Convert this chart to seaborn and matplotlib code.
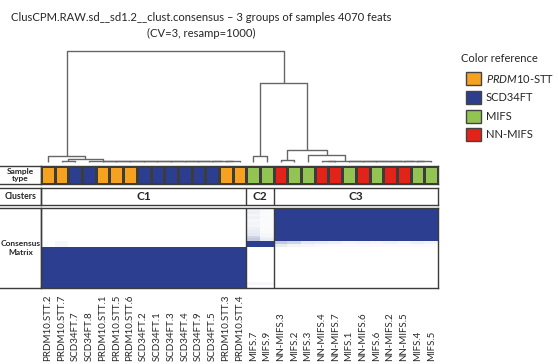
import numpy as np
import pandas as pd
import seaborn as sns
import matplotlib.pyplot as plt
from matplotlib.colors import ListedColormap, LinearSegmentedColormap
from matplotlib.patches import Rectangle
from matplotlib.transforms import blended_transform_factory

# samples in dendrogram / heatmap order
samples = ["PRDM10.STT.2", "PRDM10.STT.7", "SCD34FT.7", "SCD34FT.8", "PRDM10.STT.1",
           "PRDM10.STT.5", "PRDM10.STT.6", "SCD34FT.2", "SCD34FT.1", "SCD34FT.3",
           "SCD34FT.4", "SCD34FT.9", "SCD34FT.5", "PRDM10.STT.3", "PRDM10.STT.4",
           "MIFS.7", "MIFS.9",
           "NN-MIFS.3", "MIFS.2", "MIFS.3", "NN-MIFS.4", "NN-MIFS.7", "MIFS.1",
           "NN-MIFS.6", "MIFS.6", "NN-MIFS.2", "NN-MIFS.5", "MIFS.4", "MIFS.5"]
type_names = ["PRDM10-STT", "SCD34FT", "MIFS", "NN-MIFS"]
type_labels = [r"$\mathit{PRDM10}$-STT", "SCD34FT", "MIFS", "NN-MIFS"]
type_colors = ["#F4A21F", "#2B3E8F", "#92C353", "#E2231A"]
prefix_to_type = {"PRDM10.STT": "PRDM10-STT", "SCD34FT": "SCD34FT", "MIFS": "MIFS", "NN-MIFS": "NN-MIFS"}

clusters = ["C1", "C2", "C3"]
cluster_sizes = [15, 2, 12]

# dendrogram, linkage style: (left id, right id, height); ids >= 29 are earlier merges
merges = [
    (1, 2, 0.006), (13, 14, 0.008), (12, 30, 0.009), (11, 31, 0.010), (10, 32, 0.010),
    (9, 33, 0.011), (8, 34, 0.011), (7, 35, 0.012), (6, 36, 0.012), (5, 37, 0.012),
    (4, 38, 0.013), (3, 39, 0.013), (29, 40, 0.027), (0, 41, 0.057),
    (15, 16, 0.058),
    (17, 18, 0.018), (20, 21, 0.008), (27, 28, 0.008), (26, 46, 0.009), (25, 47, 0.009),
    (24, 48, 0.010), (23, 49, 0.010), (22, 50, 0.011), (45, 51, 0.011), (19, 52, 0.063),
    (44, 53, 0.108),
    (43, 54, 0.707), (42, 55, 1.0),
]

# consensus values
within_consensus = 1.0
mifs7_vs_c3 = [0.28, 0.22, 0.12, 0.10, 0.08, 0.05, 0.06, 0.04, 0.07, 0.05, 0.08, 0.06]
mifs9_vs_c3 = [0.10, 0.06, 0.04, 0.03, 0.02, 0.02, 0.02, 0.02, 0.03, 0.02, 0.03, 0.02]
c2_vs_prdm7 = [0.04, 0.04]
row_order = [28, 27, 26, 25, 24, 23, 22, 21, 20, 19, 18, 17, 15, 16,
             14, 13, 12, 11, 10, 9, 8, 7, 6, 5, 4, 3, 2, 1, 0]

n = len(samples)
cons = np.zeros((n, n))
start = 0
for size in cluster_sizes:
    cons[start:start + size, start:start + size] = within_consensus
    start += size
cons[15, 17:] = mifs7_vs_c3
cons[16, 17:] = mifs9_vs_c3
cons[15:17, 1] = c2_vs_prdm7
cons = np.maximum(cons, cons.T)
cons_df = pd.DataFrame(cons, index=samples, columns=samples).iloc[row_order]

sample_types = [prefix_to_type[s.rsplit(".", 1)[0]] for s in samples]
type_codes = np.array([[type_names.index(t) for t in sample_types]])

plt.rcParams["font.family"] = ["Lato", "DejaVu Sans"]
plt.rcParams["mathtext.fontset"] = "custom"
plt.rcParams["mathtext.it"] = "Lato:italic"
plt.rcParams["mathtext.rm"] = "Lato"

W, H = 558, 364
fig = plt.figure(figsize=(W / 100, H / 100), dpi=100)
edge = "#3c3c3c"
txt = "#262626"


def box(x0, y0, x1, y1):
    # pixel box (top-left origin) -> figure fraction rect
    return [x0 / W, 1 - y1 / H, (x1 - x0) / W, (y1 - y0) / H]


X0, X1 = 41, 438

# dendrogram
ax_d = fig.add_axes(box(X0, 50.7, X1, 162))
pos = {i: i + 0.5 for i in range(n)}
hgt = {i: 0.0 for i in range(n)}
for k, (a, b, h) in enumerate(merges):
    ax_d.plot([pos[a], pos[a], pos[b], pos[b]], [hgt[a], h, h, hgt[b]],
              color="#666666", lw=1.0, clip_on=False, solid_capstyle="butt")
    pos[n + k] = (pos[a] + pos[b]) / 2
    hgt[n + k] = h
ax_d.set_xlim(0, n)
ax_d.set_ylim(0, 1.0)
ax_d.axis("off")

# sample type row
ax_t = fig.add_axes(box(X0, 166, X1, 184))
sns.heatmap(type_codes, ax=ax_t, cmap=ListedColormap(type_colors), vmin=-0.5, vmax=3.5,
            cbar=False, linewidths=1.0, linecolor=edge, xticklabels=False, yticklabels=False)

# clusters row
ax_c = fig.add_axes(box(X0, 188, X1, 205))
ax_c.set_xlim(0, n)
ax_c.set_ylim(0, 1)
bounds = np.cumsum([0] + cluster_sizes)
for i, name in enumerate(clusters):
    ax_c.text((bounds[i] + bounds[i + 1]) / 2, 0.5, name, ha="center", va="center",
              fontsize=8.5, fontweight="bold", color=txt)
for b in bounds[1:-1]:
    ax_c.axvline(b, color=edge, lw=1.0)
ax_c.set_xticks([])
ax_c.set_yticks([])

# consensus matrix
ax_m = fig.add_axes(box(X0, 208, X1, 288))
blues = LinearSegmentedColormap.from_list("cons", ["#ffffff", "#2B3E8F"])
sns.heatmap(cons_df, ax=ax_m, cmap=blues, vmin=0, vmax=1, cbar=False,
            xticklabels=False, yticklabels=False)
for b in bounds[1:-1]:
    ax_m.axvline(b, color=edge, lw=1.0)

for ax in (ax_t, ax_c, ax_m):
    for sp in ax.spines.values():
        sp.set_visible(True)
        sp.set_color(edge)
        sp.set_linewidth(1.0)

# sample labels
trans = blended_transform_factory(ax_m.transData, fig.transFigure)
for i, s in enumerate(samples):
    ax_m.text(i + 0.5, 1 - 361 / H, s, transform=trans, rotation=90, ha="center",
              va="bottom", fontsize=7, color=txt)

# row label cells
for y0, y1 in [(166, 184), (188, 205), (208, 288)]:
    fig.add_artist(Rectangle((-60 / W, 1 - y1 / H), (X0 + 60) / W, (y1 - y0) / H,
                             transform=fig.transFigure, fill=False, ec=edge, lw=1.0))
fig.text(20.5 / W, 1 - 175 / H, "Sample\ntype", ha="center", va="center", fontsize=6,
         fontweight="bold", linespacing=0.95, color=txt)
fig.text(20.5 / W, 1 - 196.5 / H, "Clusters", ha="center", va="center", fontsize=6.3,
         fontweight="bold", color=txt)
fig.text(20.5 / W, 1 - 248 / H, "Consensus\nMatrix", ha="center", va="center", fontsize=6,
         fontweight="bold", linespacing=1.3, color=txt)

# title
fig.text(201 / W, 1 - 17.5 / H, "ClusCPM.RAW.sd__sd1.2__clust.consensus \u2013 3 groups of samples 4070 feats",
         ha="center", va="center", fontsize=8.1, color=txt)
fig.text(201 / W, 1 - 33 / H, "(CV=3, resamp=1000)", ha="center", va="center", fontsize=8.1, color=txt)

# colour reference legend
fig.text(461 / W, 1 - 59 / H, "Color reference", ha="left", va="center", fontsize=8, color=txt)
for i, (lab, col) in enumerate(zip(type_labels, type_colors)):
    yc = 78.7 + i * 18.7
    fig.add_artist(Rectangle((466 / W, 1 - (yc + 6.5) / H), 15 / W, 13 / H,
                             transform=fig.transFigure, fc=col, ec="#444444", lw=1.0))
    fig.text(486 / W, 1 - yc / H, lab, ha="left", va="center", fontsize=8, color=txt)

fig.savefig("out.png", dpi=100, facecolor="white")
